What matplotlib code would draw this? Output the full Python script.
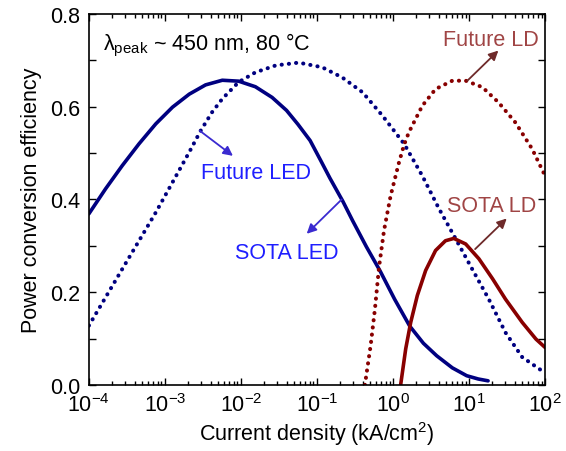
import matplotlib
matplotlib.use("Agg")
import matplotlib.pyplot as plt
from matplotlib.ticker import LogLocator, MultipleLocator, NullFormatter, FixedLocator

plt.rcParams['font.family'] = ['Liberation Sans', 'DejaVu Sans']
plt.rcParams['mathtext.fontset'] = 'custom'
plt.rcParams['mathtext.rm'] = 'Liberation Sans'
plt.rcParams['mathtext.it'] = 'Liberation Sans:italic'
plt.rcParams['mathtext.bf'] = 'Liberation Sans:bold'

# current density (kA/cm^2) and power conversion efficiency
sota_led_j = [1.0e-4, 1.66e-4, 2.75e-4, 4.57e-4, 7.59e-4, 1.26e-3, 2.09e-3, 3.43e-3,
              5.69e-3, 9.33e-3, 1.55e-2, 2.57e-2, 3.98e-2, 5.62e-2, 8.13e-2, 0.112,
              0.148, 0.219, 0.295, 0.447, 0.676, 1.05, 1.66, 2.51, 3.76, 6.03, 9.33,
              13.2, 17.8]
sota_led_eff = [0.369, 0.423, 0.473, 0.520, 0.563, 0.599, 0.627, 0.647,
                0.657, 0.655, 0.643, 0.620, 0.592, 0.562, 0.527, 0.484,
                0.446, 0.396, 0.354, 0.298, 0.246, 0.185, 0.127, 0.090, 0.063, 0.037, 0.020,
                0.013, 0.009]

future_led_j = [1.0e-4, 1.66e-4, 2.75e-4, 4.57e-4, 7.59e-4, 1.26e-3, 2.09e-3, 2.95e-3,
                4.17e-3, 5.69e-3, 9.33e-3, 1.55e-2, 2.88e-2, 5.75e-2, 0.117, 0.215,
                0.398, 0.724, 1.40, 2.43, 4.03, 6.68, 11.0, 18.2, 30.2, 50.1, 100]
future_led_eff = [0.128, 0.189, 0.250, 0.311, 0.372, 0.437, 0.502, 0.548,
                  0.588, 0.617, 0.653, 0.674, 0.689, 0.695, 0.685, 0.663,
                  0.631, 0.581, 0.520, 0.451, 0.380, 0.315, 0.250, 0.185, 0.113, 0.060, 0.026]

future_ld_j = [0.427, 0.508, 0.579, 0.655, 0.762, 0.931, 1.20, 1.40, 1.62, 2.43, 3.63,
               6.03, 9.04, 15.0, 24.5, 40.7, 67.6, 100]
future_ld_eff = [0.0, 0.085, 0.164, 0.254, 0.333, 0.408, 0.480, 0.518, 0.545, 0.602, 0.638,
                 0.656, 0.656, 0.642, 0.609, 0.566, 0.509, 0.451]

sota_ld_j = [1.26, 1.47, 1.71, 2.09, 2.69, 3.63, 4.90, 6.31, 9.04, 13.5, 20.4, 30.2,
             50.1, 75.9, 100]
sota_ld_eff = [0.0, 0.078, 0.135, 0.193, 0.247, 0.290, 0.311, 0.316, 0.304, 0.272, 0.229,
               0.185, 0.135, 0.099, 0.081]

decades = [1e-4, 1e-3, 1e-2, 1e-1, 1e0, 1e1, 1e2]

navy = '#000080'
dark_red = '#880000'
led_text = '#1f1fff'
led_arrow = '#3a2ad0'
ld_text = '#a04545'
ld_arrow = '#6e2a2a'

fig = plt.figure(figsize=(5.66, 4.52), dpi=100)
ax = fig.add_axes([0.157, 0.146, 0.806, 0.821])

dots = (0, (0.05, 1.75))
ax.plot(sota_led_j, sota_led_eff, color=navy, lw=2.6, solid_capstyle='round',
        solid_joinstyle='round')
ax.plot(future_led_j, future_led_eff, color=navy, lw=2.9, linestyle=dots,
        dash_capstyle='round')
ax.plot(future_ld_j, future_ld_eff, color=dark_red, lw=2.9, linestyle=dots,
        dash_capstyle='round')
ax.plot(sota_ld_j, sota_ld_eff, color=dark_red, lw=2.6, solid_capstyle='round',
        solid_joinstyle='round')

ax.set_xscale('log')
ax.set_xlim(1e-4, 1e2)
ax.set_ylim(0, 0.8)
ax.xaxis.set_major_locator(FixedLocator(decades))
ax.xaxis.set_minor_locator(LogLocator(base=10, subs=range(2, 10), numticks=10))
ax.xaxis.set_minor_formatter(NullFormatter())
ax.yaxis.set_major_locator(MultipleLocator(0.2))
ax.yaxis.set_minor_locator(MultipleLocator(0.1))
ax.yaxis.set_major_formatter(plt.FuncFormatter(lambda v, p: f'{v:.1f}'))

ax.tick_params(which='both', direction='in', top=True, right=True, labelsize=15.5, width=1.0)
ax.tick_params(which='major', length=5, pad=6)
ax.tick_params(which='minor', length=3.2)
ax.tick_params(axis='y', which='minor', length=5)
for s in ax.spines.values():
    s.set_linewidth(1.2)

ax.set_xlabel('Current density (kA/cm$^2$)', fontsize=15.5, labelpad=2)
ax.set_ylabel('Power conversion efficiency', fontsize=15.5, labelpad=6)

ax.text(0.031, 0.919, r'λ$_{\rm peak}$ ~ 450 nm, 80 °C', transform=ax.transAxes,
        fontsize=15.5, va='center', ha='left')

arrow_kw = dict(arrowstyle='-|>', lw=1.3, mutation_scale=14, shrinkA=0, shrinkB=0)
ax.annotate('', xy=(10**-2.105, 0.494), xytext=(10**-2.54, 0.548),
            arrowprops=dict(color=led_arrow, **arrow_kw))
ax.annotate('', xy=(10**-1.135, 0.326), xytext=(10**-0.675, 0.40),
            arrowprops=dict(color=led_arrow, **arrow_kw))
ax.annotate('', xy=(10**1.386, 0.721), xytext=(10**0.978, 0.656),
            arrowprops=dict(color=ld_arrow, **arrow_kw))
ax.annotate('', xy=(10**1.496, 0.359), xytext=(10**1.08, 0.293),
            arrowprops=dict(color=ld_arrow, **arrow_kw))

ax.text(10**-1.80, 0.459, 'Future LED', color=led_text, fontsize=15.5, ha='center', va='center')
ax.text(10**-1.395, 0.285, 'SOTA LED', color=led_text, fontsize=15.5, ha='center', va='center')
ax.text(10**1.29, 0.745, 'Future LD', color=ld_text, fontsize=15.5, ha='center', va='center')
ax.text(10**1.30, 0.387, 'SOTA LD', color=ld_text, fontsize=15.5, ha='center', va='center')

fig.savefig('out.png', dpi=100)
